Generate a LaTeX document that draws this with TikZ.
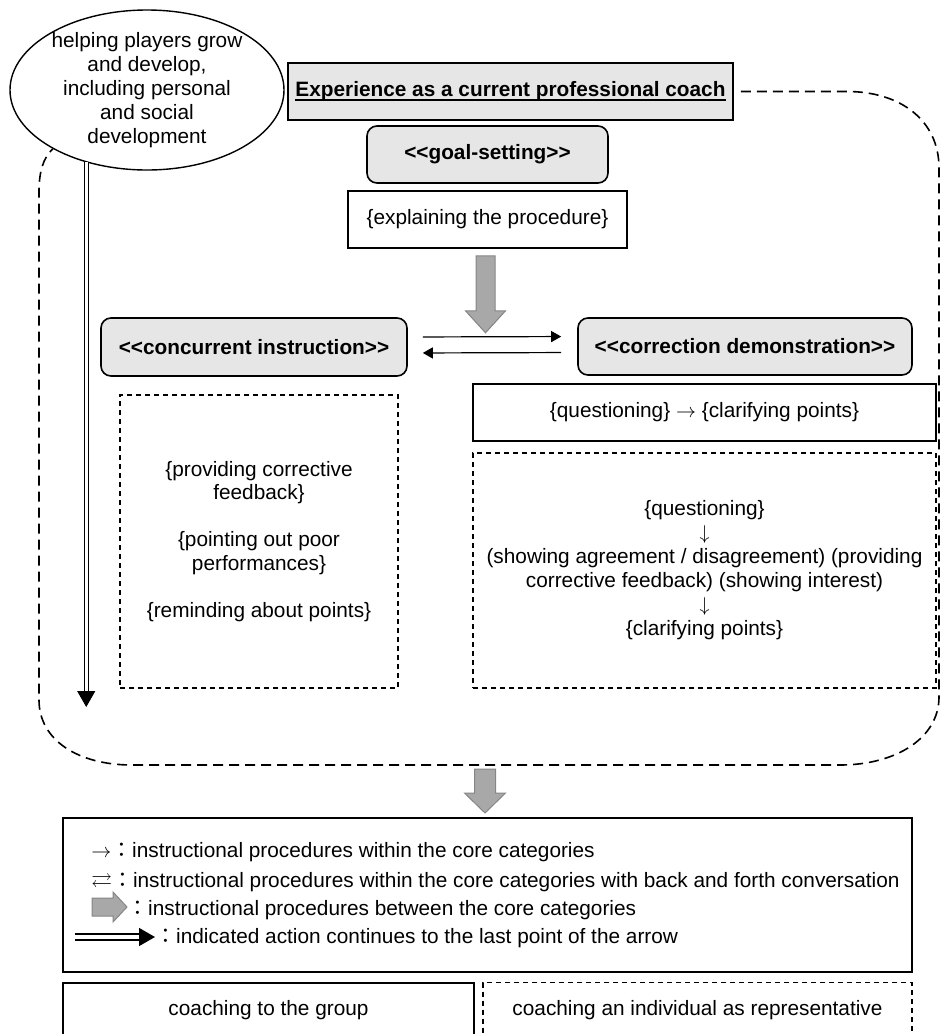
\documentclass[tikz,border=0pt]{standalone}
\usepackage{amssymb}
\usepackage{fontspec}
\setmainfont{Liberation Sans}
\newfontfamily\cjkfont{Noto Sans CJK JP}
\usetikzlibrary{shapes.geometric, arrows.meta, calc, positioning}
\definecolor{boxgray}{HTML}{E6E6E6}
\definecolor{arrowgray}{HTML}{A8A8A8}
\definecolor{arrowedge}{HTML}{858585}
\newcommand{\ulinetext}[1]{\setbox0\hbox{#1}\rlap{\rule[-1.9pt]{\wd0}{0.7pt}}\box0}

\begin{document}
\begin{tikzpicture}[
  x=0.5pt, y=-0.5pt,
  font=\fontsize{10.4}{11.6}\selectfont,
  core/.style={rectangle, rounded corners=5pt, draw, fill=boxgray, line width=0.8pt, font=\fontsize{10.4}{11.6}\selectfont\bfseries},
  titlebox/.style={rectangle, draw, fill=boxgray, line width=0.8pt, font=\fontsize{10.4}{11.6}\selectfont\bfseries},
  plainbox/.style={rectangle, draw, line width=0.8pt},
  dotbox/.style={rectangle, draw, line width=0.7pt, dash pattern=on 2.5pt off 2pt, align=center},
  bubble/.style={ellipse, draw, line width=0.7pt, align=center, inner xsep=0pt, inner ysep=-6pt, minimum width=137pt, minimum height=80pt, font=\fontsize{10.4}{12}\selectfont},
  region/.style={draw, line width=0.8pt, dash pattern=on 5pt off 3pt},
  thinarrow/.style={line width=0.6pt, -{Triangle[length=5pt, width=5.5pt]}},
  dblarrow/.style={double, double distance=1.6pt, line width=0.5pt, -{Triangle[length=8pt, width=9pt]}},
  blockarrow/.style={fill=arrowgray, draw=arrowedge, line width=0.5pt},
  legenditem/.style={anchor=base west, inner sep=0pt}
]
\path[use as bounding box, clip] (0,0) rectangle (940,1034);

% top part
\node[bubble] (develop) at (147,90) {helping players grow\\and develop,\\including personal\\and social\\development};
\node[titlebox, minimum width=222.5pt, minimum height=28.5pt] (title) at (510.5,91.5) {\ulinetext{Experience as a current professional coach}};
\node[core, minimum width=120.5pt, minimum height=28.5pt] (goal) at (487.5,154.5) {<{}<goal-setting>{}>};
\node[plainbox, minimum width=139.5pt, minimum height=28.5pt] (explain) at (487.5,219.5) {\{explaining the procedure\}};

\filldraw[blockarrow] ($(explain.south)+(-11.5,7)$) -- ++(19,0) -- ++(0,55) -- ++(10.5,0)
  -- ++(-20,22) -- ++(-20,-22) -- ++(10.5,0) -- cycle;

% core categories
\node[core, minimum width=153pt, minimum height=29pt] (concur) at (254,347) {<{}<concurrent instruction>{}>};
\node[core, minimum width=167pt, minimum height=28.5pt] (correct) at (745,346.5) {<{}<correction demonstration>{}>};

\draw[thinarrow, shorten <=7.5pt, shorten >=8pt] ([yshift=5pt]concur.east) -- ([yshift=5pt]correct.west);
\draw[thinarrow, shorten <=8pt, shorten >=7.5pt] ([yshift=-3pt]correct.west) -- ([yshift=-3pt]concur.east);

\node[plainbox, minimum width=231.5pt, minimum height=28.5pt] (quest) at (704.5,412.5) {\{questioning\} $\rightarrow$ \{clarifying points\}};

\node[dotbox, minimum width=139pt, minimum height=146.5pt] (feedback) at (259,541.5)
  {\{providing corrective\\feedback\}\\[12pt]\{pointing out poor\\performances\}\\[12pt]\{reminding about points\}};
\node[dotbox, minimum width=231.5pt, minimum height=117.5pt, font=\fontsize{10.4}{12}\selectfont] (dialogue) at (704.5,570.5)
  {\{questioning\}\\$\downarrow$\\(showing agreement / disagreement) (providing\\corrective feedback) (showing interest)\\$\downarrow$\\\{clarifying points\}};

% dashed frame and long arrow
\draw[region] ([xshift=3.5pt]title.east) -- (847,91.5) .. controls (900,91.5) and (939,120) .. (939,168)
  -- (939,697) .. controls (939,738) and (896,765) .. (840,765) -- (132,765)
  .. controls (78,765) and (39,740) .. (39,700) -- (39,192) .. controls (39,172) and (43,158) .. (develop.212);

\coordinate (dtip) at (85,707);
\draw[dblarrow] (develop.230) -- (develop.230 |- dtip);

% legend
\node[plainbox, minimum width=424.5pt, minimum height=77pt] (legend) at (487.5,895) {};

\coordinate (flow) at (485,769);
\filldraw[blockarrow] ($(flow)+(-10.5,0)$) -- ++(21,0) -- ++(0,24) -- ++(10,0)
  -- ++(-20.5,20) -- ++(-20.5,-20) -- ++(10,0) -- cycle;

\node[legenditem] (item1) at (91,857) {$\rightarrow${\cjkfont ：}instructional procedures within the core categories};
\node[legenditem] (item2) at (91,887) {$\rightleftarrows${\cjkfont ：}instructional procedures within the core categories with back and forth conversation};
\node[legenditem] (item3) at (127,915) {{\cjkfont ：}instructional procedures between the core categories};
\node[legenditem] (item4) at (155,943) {{\cjkfont ：}indicated action continues to the last point of the arrow};

\coordinate (g3) at (92,907);
\filldraw[blockarrow] ($(g3)+(0,-9)$) -- ++(21,0) -- ++(0,-6) -- ++(14,15) -- ++(-14,15) -- ++(0,-6) -- ++(-21,0) -- cycle;

\coordinate (d4) at (75,937);
\draw[dblarrow, double distance=2pt, line width=0.8pt] (d4) -- (d4 -| item4.west);

% bottom
\node[plainbox, anchor=north, minimum width=205.5pt, inner ysep=0.5pt, text height=16pt, text depth=40pt] (group) at (268.5,982) {coaching to the group};
\node[dotbox, anchor=north, minimum width=214.5pt, inner ysep=0.5pt, text height=16pt, text depth=40pt] (single) at (697.5,982) {coaching an individual as representative};
\end{tikzpicture}
\end{document}
